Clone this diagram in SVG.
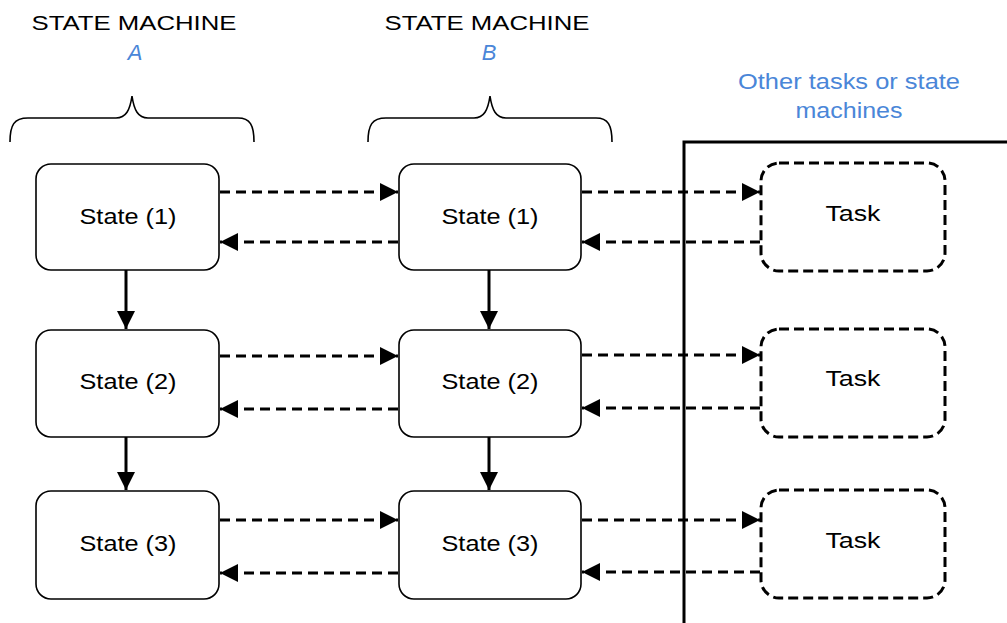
<svg xmlns="http://www.w3.org/2000/svg" width="1007" height="623" viewBox="0 0 1007 623">
<style>
.state{fill:#fff;stroke:#000;stroke-width:1.6}
.task{fill:#fff;stroke:#000;stroke-width:3;stroke-dasharray:10 5}
.lbl{font-family:"Liberation Sans",Arial,sans-serif;font-size:22px;fill:#000;text-anchor:middle}
.hdr{font-family:"Liberation Sans",Arial,sans-serif;font-size:21px;fill:#000;text-anchor:middle}
.blue{font-family:"Liberation Sans",Arial,sans-serif;font-size:22px;fill:#4a86d8;text-anchor:middle}
.dash{stroke:#000;stroke-width:3;stroke-dasharray:10 6;fill:none}
.solid{stroke:#000;stroke-width:3;fill:none}
.brace{stroke:#000;stroke-width:1.6;fill:none}
</style>
<defs>
<marker id="ah" viewBox="0 0 10 10" refX="10" refY="5" markerWidth="6" markerHeight="6" markerUnits="strokeWidth" orient="auto">
<path d="M0,0 L10,5 L0,10 z" fill="#000"/>
</marker>
</defs>
<rect x="0" y="0" width="1007" height="623" fill="#fff"/>
<g id="headers">
<text class="hdr" x="134" y="30" textLength="205" lengthAdjust="spacingAndGlyphs">STATE MACHINE</text>
<text class="blue" x="135" y="60" font-style="italic">A</text>
<text class="hdr" x="487" y="30" textLength="205" lengthAdjust="spacingAndGlyphs">STATE MACHINE</text>
<text class="blue" x="489" y="60" font-style="italic">B</text>
<text class="blue" x="849" y="89" textLength="222" lengthAdjust="spacingAndGlyphs">Other tasks or state</text>
<text class="blue" x="849" y="118" textLength="107" lengthAdjust="spacingAndGlyphs">machines</text>
<path class="brace" d="M10,142 C10,125 14,118 28,118 L116,118 C126,118 130,110 132,96 C134,110 138,118 148,118 L238,118 C250,118 254,125 254,142"/>
<path class="brace" d="M368,142 C368,125 372,118 386,118 L474,118 C484,118 488,110 490,96 C492,110 496,118 506,118 L596,118 C608,118 612,125 612,142"/>
</g>
<g id="frame"><path d="M684,623 L684,142 L1010,142" fill="none" stroke="#000" stroke-width="3"/></g>
<g id="connectors">
<line class="solid" x1="126" y1="270" x2="126" y2="329" marker-end="url(#ah)"/>
<line class="solid" x1="126" y1="437" x2="126" y2="490" marker-end="url(#ah)"/>
<line class="solid" x1="489" y1="270" x2="489" y2="329" marker-end="url(#ah)"/>
<line class="solid" x1="489" y1="437" x2="489" y2="490" marker-end="url(#ah)"/>
<line class="dash" x1="220" y1="192" x2="398" y2="192" marker-end="url(#ah)"/>
<line class="dash" x1="398" y1="242" x2="220" y2="242" marker-end="url(#ah)"/>
<line class="dash" x1="220" y1="356" x2="398" y2="356" marker-end="url(#ah)"/>
<line class="dash" x1="398" y1="409" x2="220" y2="409" marker-end="url(#ah)"/>
<line class="dash" x1="220" y1="520" x2="398" y2="520" marker-end="url(#ah)"/>
<line class="dash" x1="398" y1="573" x2="220" y2="573" marker-end="url(#ah)"/>
<line class="dash" x1="582" y1="192" x2="760" y2="192" marker-end="url(#ah)"/>
<line class="dash" x1="760" y1="242" x2="582" y2="242" marker-end="url(#ah)"/>
<line class="dash" x1="582" y1="355" x2="760" y2="355" marker-end="url(#ah)"/>
<line class="dash" x1="760" y1="408" x2="582" y2="408" marker-end="url(#ah)"/>
<line class="dash" x1="582" y1="520" x2="760" y2="520" marker-end="url(#ah)"/>
<line class="dash" x1="760" y1="572" x2="582" y2="572" marker-end="url(#ah)"/>
</g>
<g id="a1"><rect class="state" x="36" y="164" width="183" height="106" rx="15"/><text class="lbl" x="128" y="224" textLength="97" lengthAdjust="spacingAndGlyphs">State (1)</text></g>
<g id="a2"><rect class="state" x="36" y="330" width="183" height="107" rx="15"/><text class="lbl" x="128" y="389" textLength="97" lengthAdjust="spacingAndGlyphs">State (2)</text></g>
<g id="a3"><rect class="state" x="36" y="491" width="183" height="108" rx="15"/><text class="lbl" x="128" y="551" textLength="97" lengthAdjust="spacingAndGlyphs">State (3)</text></g>
<g id="b1"><rect class="state" x="399" y="164" width="182" height="106" rx="15"/><text class="lbl" x="490" y="224" textLength="97" lengthAdjust="spacingAndGlyphs">State (1)</text></g>
<g id="b2"><rect class="state" x="399" y="330" width="182" height="107" rx="15"/><text class="lbl" x="490" y="389" textLength="97" lengthAdjust="spacingAndGlyphs">State (2)</text></g>
<g id="b3"><rect class="state" x="399" y="491" width="182" height="108" rx="15"/><text class="lbl" x="490" y="551" textLength="97" lengthAdjust="spacingAndGlyphs">State (3)</text></g>
<g id="t1"><rect class="task" x="761" y="163" width="184" height="108" rx="18"/><text class="lbl" x="853" y="221" textLength="55" lengthAdjust="spacingAndGlyphs">Task</text></g>
<g id="t2"><rect class="task" x="761" y="329" width="184" height="108" rx="18"/><text class="lbl" x="853" y="386" textLength="55" lengthAdjust="spacingAndGlyphs">Task</text></g>
<g id="t3"><rect class="task" x="761" y="490" width="184" height="108" rx="18"/><text class="lbl" x="853" y="548" textLength="55" lengthAdjust="spacingAndGlyphs">Task</text></g>
</svg>
